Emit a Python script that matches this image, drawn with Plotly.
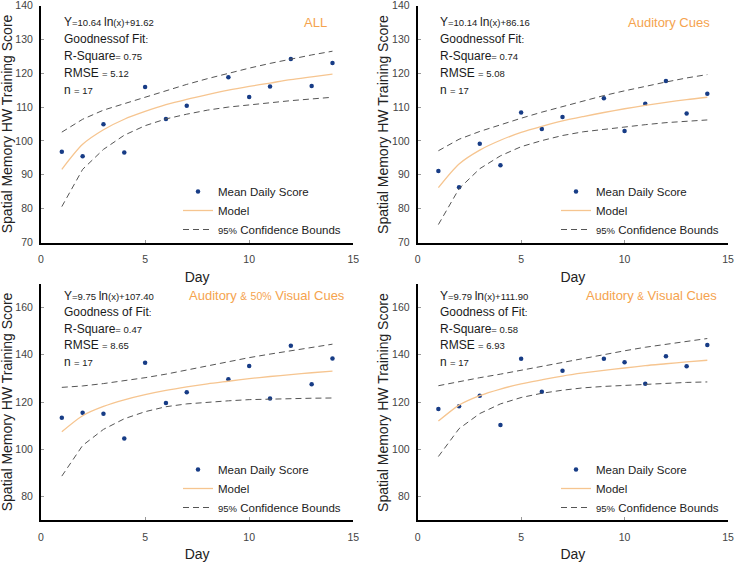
import plotly.graph_objects as go

# ---------------- data ----------------
days = [1, 2, 3, 4, 5, 6, 7, 9, 10, 11, 12, 13, 14]
curve_days = [1, 2, 3, 4, 5, 6, 7, 8, 9, 10, 11, 12, 13, 14]

all_scores = [96.8, 95.5, 104.9, 96.6, 115.9, 106.5, 110.4, 118.8, 113.0, 116.1, 124.2, 116.2, 123.0]
all_model = [91.6, 99.0, 103.3, 106.4, 108.7, 110.7, 112.3, 113.7, 115.0, 116.1, 117.1, 118.1, 118.9, 119.7]
all_upper = [102.6, 106.4, 109.1, 111.0, 113.0, 114.9, 116.7, 118.4, 120.0, 121.5, 122.9, 124.2, 125.4, 126.5]
all_lower = [80.6, 91.6, 97.5, 101.7, 104.5, 106.5, 107.9, 109.1, 110.0, 110.7, 111.4, 111.9, 112.4, 112.9]

aud_scores = [91.1, 86.3, 99.2, 92.8, 108.4, 103.5, 107.1, 112.6, 102.9, 111.0, 117.7, 108.1, 113.9]
aud_model = [86.2, 93.2, 97.3, 100.2, 102.5, 104.3, 105.9, 107.2, 108.4, 109.5, 110.5, 111.4, 112.2, 112.9]
aud_upper = [97.1, 100.5, 102.8, 104.8, 106.7, 108.5, 110.2, 111.9, 113.4, 114.8, 116.2, 117.4, 118.6, 119.6]
aud_lower = [75.3, 85.9, 91.8, 95.6, 98.3, 100.1, 101.6, 102.7, 103.4, 104.2, 104.8, 105.4, 105.8, 106.2]

a50_scores = [113.3, 115.4, 115.0, 104.5, 136.6, 119.6, 124.1, 129.6, 135.3, 121.5, 143.8, 127.5, 138.4]
a50_model = [107.4, 114.2, 118.1, 120.9, 123.1, 124.9, 126.4, 127.7, 128.8, 129.9, 130.8, 131.6, 132.4, 133.1]
a50_upper = [126.2, 126.8, 127.8, 128.9, 130.3, 131.8, 133.6, 135.4, 137.1, 138.8, 140.3, 141.8, 143.2, 144.5]
a50_lower = [88.6, 101.6, 108.4, 112.9, 115.9, 118.0, 119.2, 120.0, 120.5, 121.0, 121.3, 121.4, 121.6, 121.7]

av_scores = [117.0, 118.2, 122.6, 110.3, 138.3, 124.3, 133.2, 138.3, 136.8, 127.7, 139.4, 135.1, 144.2]
av_model = [111.9, 118.7, 122.7, 125.5, 127.7, 129.4, 131.0, 132.3, 133.4, 134.4, 135.4, 136.2, 137.0, 137.7]
av_upper = [126.9, 128.7, 130.3, 131.8, 133.5, 135.1, 136.9, 138.6, 140.2, 141.7, 143.2, 144.5, 145.7, 146.9]
av_lower = [96.9, 108.7, 115.1, 119.2, 121.9, 123.7, 125.0, 126.0, 126.6, 127.1, 127.6, 127.9, 128.3, 128.5]

panel_titles = ["ALL", "Auditory Cues",
                "Auditory <span style='font-size:10px'>&amp;</span> <span style='font-size:10.5px'>50%</span> Visual Cues",
                "Auditory <span style='font-size:10px'>&amp;</span> Visual Cues"]
equations = [("10.64", "91.62"), ("10.14", "86.16"), ("9.75", "107.40"), ("9.79", "111.90")]
gof_labels = ["Goodnessof Fit", "Goodnessof Fit", "Goodness of Fit", "Goodness of Fit"]
r_square = ["0.75", "0.74", "0.47", "0.58"]
rmse = ["5.12", "5.08", "8.65", "6.93"]
n_obs = ["17", "17", "17", "17"]
y_title = "Spatial Memory HW Training Score"
x_title = "Day"

# ---------------- styling ----------------
FONT = "Liberation Sans, Arial, sans-serif"
ORANGE = "#F5A34E"
MODEL_C = "#F6C590"
DOT_C = "#173C86"
DASH_C = "#555555"
SMALL = "font-size:9.5px"

W, H = 738, 563
ML, MR, MT, MB = 41, 10, 5, 43
IW, IH = W - ML - MR, H - MT - MB

def xd(p0, p1):
    return [(p0 - ML) / IW, (p1 - ML) / IW]

def yd(top, bottom):
    return [(H - MB - bottom) / IH, (H - MB - top) / IH]

x_domains = [xd(41, 353.3), xd(417.7, 728), xd(41, 353.3), xd(417.7, 728)]
y_domains = [yd(5.5, 242.5), yd(5.5, 242.5), yd(284, 520), yd(284, 520)]
y_ranges = [[70, 140], [70, 140], [70, 170], [70, 170]]
y_dticks = [10, 10, 20, 20]
text_rows = [[135, 130, 125, 120, 115], [135, 130, 125, 120, 115],
             [165, 158, 151, 144, 137], [165, 158, 151, 144, 137]]
title_x = [12.55, 10.07, 7.02, 8.05]
ytitle_x = [-0.108, -0.112, -0.108, -0.112]
legend_pos = [(178, 177), (556, 177), (178, 455), (556, 455)]

panels = [
    (all_scores, all_model, all_upper, all_lower),
    (aud_scores, aud_model, aud_upper, aud_lower),
    (a50_scores, a50_model, a50_upper, a50_lower),
    (av_scores, av_model, av_upper, av_lower),
]

fig = go.Figure()
annotations = []
layout = {}

for i, (scores, model, upper, lower) in enumerate(panels):
    k = "" if i == 0 else str(i + 1)
    lg = "legend" + k
    xa, ya = "x" + k, "y" + k
    fig.add_trace(go.Scatter(x=days, y=scores, mode="markers", name="Mean Daily Score",
                             marker=dict(color=DOT_C, size=4.5), xaxis=xa, yaxis=ya, legend=lg))
    fig.add_trace(go.Scatter(x=curve_days, y=model, mode="lines", name="Model",
                             line=dict(color=MODEL_C, width=1.3, shape="spline", smoothing=0.8),
                             xaxis=xa, yaxis=ya, legend=lg))
    fig.add_trace(go.Scatter(x=curve_days, y=upper, mode="lines",
                             name="<span style='font-size:9.5px'>95%</span> Confidence Bounds",
                             legendgroup="cb" + k,
                             line=dict(color=DASH_C, width=1, dash="6px,4px"), xaxis=xa, yaxis=ya, legend=lg))
    fig.add_trace(go.Scatter(x=curve_days, y=lower, mode="lines", showlegend=False,
                             legendgroup="cb" + k,
                             line=dict(color=DASH_C, width=1, dash="6px,4px"), xaxis=xa, yaxis=ya, legend=lg))

    layout["xaxis" + k] = dict(
        domain=x_domains[i], anchor=ya, range=[0, 15], tick0=0, dtick=5,
        showline=True, linecolor="black", linewidth=2, showgrid=False, zeroline=False,
        ticks="inside", ticklen=3, tickcolor="#999999", tickwidth=1, automargin=False,
        ticklabeloverflow="allow",
        tickfont=dict(family=FONT, size=10.5, color="#444444"), ticklabelstandoff=6,
        title=dict(text=x_title, font=dict(family=FONT, size=14, color="#222222"), standoff=8),
    )
    layout["yaxis" + k] = dict(
        domain=y_domains[i], anchor=xa, range=y_ranges[i], tick0=0, dtick=y_dticks[i],
        showline=True, linecolor="black", linewidth=2, showgrid=False, zeroline=False,
        ticks="inside", ticklen=3, tickcolor="#999999", tickwidth=1, automargin=False,
        ticklabeloverflow="allow",
        tickfont=dict(family=FONT, size=10.5, color="#444444"), ticklabelstandoff=4,
    )
    # y-axis title (rotated text placed beside the axis)
    annotations.append(dict(x=ytitle_x[i], y=0.5, xref=xa + " domain", yref=ya + " domain",
                            text=y_title, textangle=-90, showarrow=False,
                            xanchor="center", yanchor="middle",
                            font=dict(family=FONT, size=14, color="#222222")))
    lx, ly = legend_pos[i]
    layout[lg] = dict(x=lx / W, y=1 - ly / H, xref="container", yref="container",
                      xanchor="left", yanchor="top", bgcolor="rgba(0,0,0,0)",
                      font=dict(family=FONT, size=11.5, color="#222222"),
                      itemwidth=30, tracegroupgap=0)

    slope, icpt = equations[i]
    lines = [
        f"Y<span style='{SMALL}'>={slope} </span>ln<span style='{SMALL}'>(x)+{icpt}</span>",
        f"{gof_labels[i]}<span style='{SMALL}'>:</span>",
        f"R-Square<span style='{SMALL}'>= {r_square[i]}</span>",
        f"RMSE <span style='{SMALL}'>= {rmse[i]}</span>",
        f"n <span style='{SMALL}'>= {n_obs[i]}</span>",
    ]
    for txt, yy in zip(lines, text_rows[i]):
        annotations.append(dict(x=1, y=yy, xref=xa, yref=ya, text=txt, showarrow=False,
                                xanchor="left", yanchor="middle",
                                font=dict(family=FONT, size=12, color="#1a1a1a")))
    annotations.append(dict(x=title_x[i], y=text_rows[i][0], xref=xa, yref=ya, text=panel_titles[i],
                            showarrow=False, xanchor="left", yanchor="middle",
                            font=dict(family=FONT, size=13, color=ORANGE)))

fig.update_layout(
    width=W, height=H,
    margin=dict(l=ML, r=MR, t=MT, b=MB, autoexpand=False),
    paper_bgcolor="white", plot_bgcolor="white",
    annotations=annotations,
    **layout,
)

fig.write_html("out.html", config={"displayModeBar": False},
               post_script="document.body.style.margin='0';")
